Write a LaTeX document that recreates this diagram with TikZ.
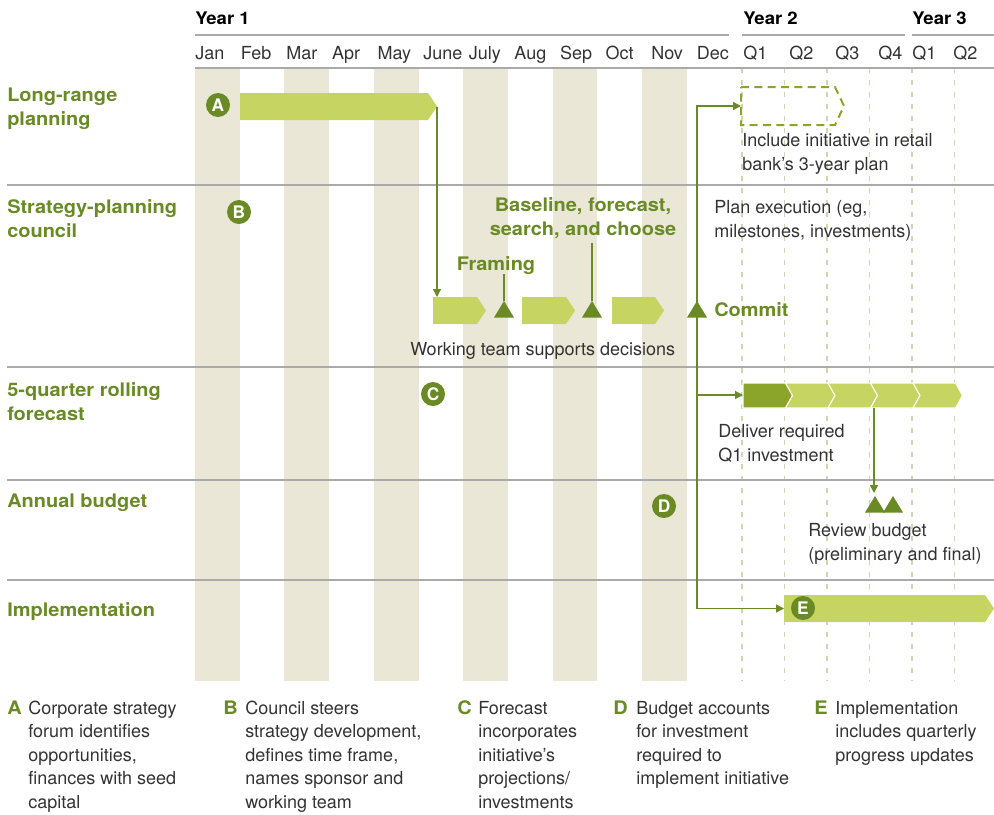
\documentclass[tikz,border=0pt]{standalone}
\usepackage{fontspec}
\setmainfont{TeX Gyre Heros}
\newfontfamily\tagfont[FakeStretch=1.07]{TeX Gyre Heros}
\usetikzlibrary{arrows.meta}
\definecolor{stripe}{HTML}{EAE7D6}
\definecolor{lime}{HTML}{C6D462}
\definecolor{leaf}{HTML}{6A8A26}
\definecolor{moss}{HTML}{8AA52A}
\definecolor{rulegray}{HTML}{AAAAAA}
\definecolor{ink}{HTML}{333333}
\definecolor{qline}{HTML}{D8D2B2}
\tikzstyle{txt} = [inner sep=0pt, text=ink, font=\fontsize{13.5}{18}\selectfont, align=left, anchor=base west]
\tikzstyle{keytxt} = [txt, font=\fontsize{13.5}{17.7}\selectfont]
\tikzstyle{lbl} = [txt, text=leaf, font=\fontsize{14}{18}\selectfont\tagfont\bfseries]
\tikzstyle{hdr} = [txt, text=black, font=\fontsize{13}{15}\selectfont\tagfont\bfseries]
\tikzstyle{badge} = [circle, fill=leaf, text=white, minimum size=18pt, inner sep=0pt, font=\fontsize{13}{13}\selectfont\bfseries]
\tikzstyle{conn} = [draw=leaf, line width=1pt]
\tikzstyle{tip} = [-{Triangle[length=6pt,width=6pt]}]
% multi-line nodes sit on the baseline of their last line
\newcommand{\arrowbar}[5][fill=lime]{\path[#1] (#3,#5-13.5) -- (#4,#5-13.5) -- (#4+9,#5) -- (#4,#5+13.5) -- (#3,#5+13.5) -- cycle;%
	\coordinate (#2) at (#4+9,#5);}
\newcommand{\milestone}[3]{\fill[leaf] (#2,#3) -- (#2+10,#3+16.5) -- (#2-10,#3+16.5) -- cycle;%
	\coordinate (#1) at (#2,#3);}
\newcommand{\keynote}[6]{\node[lbl] (k#1) at (#2,714) {#5};%
	\node[keytxt] (n#1) at (#3,#4) {#6};}

\begin{document}
\begin{tikzpicture}[x=0.75pt, y=-0.75pt]
	\useasboundingbox (0,0) rectangle (994,814);
	% month stripes and quarter lines
	\foreach \m in {0,2,...,10} \fill[stripe] (195+44.7*\m,68) rectangle +(44.7,613);
	\foreach \k in {0,...,5} \draw[qline, line width=0.9pt, dash pattern=on 4pt off 5pt] (742+42.5*\k,68) -- (742+42.5*\k,681);
	\foreach \y in {185,367,480,580} \draw[rulegray, line width=1pt] (7,\y) -- (994,\y);
	% header
	\node[hdr] (y1) at (195,24) {Year 1};
	\node[hdr] (y2) at (743,24) {Year 2};
	\node[hdr] (y3) at (912,24) {Year 3};
	\draw[rulegray, line width=1pt] (195,35) -- (729,35) (742,35) -- (905,35) (912,35) -- (994,35) (195,68) -- (994,68);
	\foreach \m [count=\i from 0] in {Jan,Feb,Mar,Apr,May,June,July,Aug,Sep,Oct,Nov,Dec}
		\node[txt] (m\i) at (195+45.6*\i,59) {\m};
	\foreach \q/\x [count=\i] in {Q1/743,Q2/789,Q3/835,Q4/878,Q1/912,Q2/953}
		\node[txt] (q\i) at (\x,59) {\q};
	% row labels
	\node[lbl] (rowlrp) at (7,125) {Long-range\\planning};
	\node[lbl] (rowspc) at (7,237) {Strategy-planning\\council};
	\node[lbl] (rowfc) at (7,420) {5-quarter rolling\\forecast};
	\node[lbl] (rowab) at (7,507) {Annual budget};
	\node[lbl] (rowimp) at (7,616) {Implementation};
	% bars
	\arrowbar{lrp}{240}{428}{106.5}
	\arrowbar{w1}{433}{477}{310.5}
	\arrowbar{w2}{522}{566}{310.5}
	\arrowbar{w3}{612}{655}{310.5}
	\arrowbar{imp}{784}{985}{608.5}
	\coordinate (ein) at (784,608.5);
	\draw[moss, line width=1.5pt, dash pattern=on 6pt off 4pt] (741,87) -- (835,87) -- (844,106) -- (835,125) -- (741,125) -- cycle;
	\coordinate (plan) at (741,106);
	\foreach \k/\col/\n in {0/moss/0,1/lime/7,2/lime/7,3/lime/7,4/lime/7}
		\filldraw[fill=\col, draw=white, line width=0.8pt] (743+42.5*\k,383) -- (785.5+42.5*\k,383) -- (792.5+42.5*\k,395.5)
			-- (785.5+42.5*\k,408) -- (743+42.5*\k,408) -- (743+42.5*\k+\n,395.5) -- cycle;
	\coordinate (fc) at (743,395);
	\coordinate (fcdrop) at (874,408);
	% milestones
	\milestone{tf}{504}{301}
	\milestone{tb}{592}{301}
	\milestone{tc}{697}{301}
	\milestone{r1}{875}{496}
	\milestone{r2}{893}{496}
	\node[lbl] (framing) at (496,270) [anchor=base] {Framing};
	\node[lbl, align=center] (bfsc) at (583,235.5) [anchor=base] {Baseline, forecast,\\search, and choose};
	\node[lbl] (commit) at (714,316) {Commit};
	% connectors
	\draw[conn, tip] (lrp) -- (lrp |- 0,297);
	\draw[conn] (tf) -- (tf |- framing.south);
	\draw[conn] (tb) -- ([yshift=-3pt]tb |- bfsc.south);
	\draw[conn, tip] (tc) |- (plan);
	\draw[conn, tip] (tc) |- (fc);
	\draw[conn, tip] (tc) |- (ein);
	\draw[conn, tip] (fcdrop) -- (fcdrop |- 0,493);
	% badges
	\node[badge] (bA) at (218,105) {A};
	\node[badge] (bB) at (239,212) {B};
	\node[badge] (bC) at (433,394) {C};
	\node[badge] (bD) at (664,506) {D};
	\node[badge] (bE) at (803,608) {E};
	% notes
	\node[txt] (incl) at (742,170) {Include initiative in retail\\bank’s 3-year plan};
	\node[txt] (exec) at (714,237) {Plan execution (eg,\\milestones, investments)};
	\node[txt] (team) at (410,355) {Working team supports decisions};
	\node[txt] (deliver) at (718,461) {Deliver required\\Q1 investment};
	\node[txt] (review) at (808,560) {Review budget\\(preliminary and final)};
	% key
	\keynote{a}{7}{28}{808.4}{A}{Corporate strategy\\forum identifies\\opportunities,\\finances with seed\\capital}
	\keynote{b}{223}{245}{808.4}{B}{Council steers\\strategy development,\\defines time frame,\\names sponsor and\\working team}
	\keynote{c}{457}{478}{808.4}{C}{Forecast\\incorporates\\initiative’s\\projections/\\investments}
	\keynote{d}{613}{636}{784.8}{D}{Budget accounts\\for investment\\required to\\implement initiative}
	\keynote{e}{814}{835}{761.2}{E}{Implementation\\includes quarterly\\progress updates}
\end{tikzpicture}
\end{document}
